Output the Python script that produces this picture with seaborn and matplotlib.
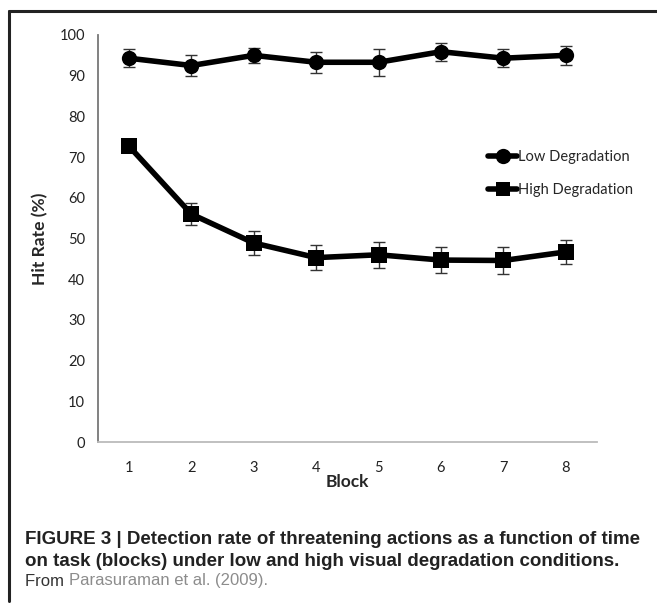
import matplotlib
matplotlib.use("Agg")
import numpy as np
import pandas as pd
import seaborn as sns
import matplotlib.pyplot as plt
from matplotlib.lines import Line2D
from matplotlib.ticker import FixedLocator, NullFormatter

# data
blocks = [1, 2, 3, 4, 5, 6, 7, 8]
low_deg = [94.3, 92.5, 95.0, 93.3, 93.3, 95.9, 94.3, 95.0]
low_err = [2.2, 2.5, 1.9, 2.6, 3.3, 2.2, 2.2, 2.3]
high_deg = [72.7, 56.0, 48.9, 45.3, 46.0, 44.7, 44.6, 46.7]
high_err = [1.0, 2.6, 3.0, 3.1, 3.2, 3.1, 3.2, 2.9]
series_names = ["Low Degradation", "High Degradation"]

df = pd.DataFrame({
    "block": blocks * 2,
    "hit": low_deg + high_deg,
    "cond": [series_names[0]] * 8 + [series_names[1]] * 8,
})

sns.set_style("white")
plt.rcParams["font.family"] = ["Lato", "DejaVu Sans"]

fig = plt.figure(figsize=(6.57, 6.04), dpi=100)
ax = fig.add_axes([97.7 / 657, 1 - 442 / 604, (597 - 97.7) / 657, (442 - 35) / 604])

# error bars first, lines on top
for vals, errs in [(low_deg, low_err), (high_deg, high_err)]:
    ax.errorbar(blocks, vals, yerr=errs, fmt="none", ecolor="#333333",
                elinewidth=1.0, capsize=4, capthick=1.0, zorder=2)

sns.lineplot(data=df, x="block", y="hit", style="cond",
             markers={series_names[0]: "o", series_names[1]: "s"},
             dashes=False, color="black", linewidth=4, markersize=11,
             markeredgewidth=0, legend=False, ax=ax, zorder=3)

ax.set_xlim(0.5, 8.5)
ax.set_ylim(0, 100)
ax.set_yticks(range(0, 101, 10))
ax.set_xticks(blocks)
ax.xaxis.set_minor_locator(FixedLocator(np.arange(0.5, 9, 1)))
ax.xaxis.set_minor_formatter(NullFormatter())
ax.tick_params(axis="x", which="major", length=0, pad=14, labelsize=10.5, colors="#222222")
ax.tick_params(axis="x", which="minor", length=5, width=1, color="#bbbbbb", direction="out")
ax.tick_params(axis="y", length=5, width=1, color="#777777", direction="out",
               labelsize=10.5, labelcolor="#222222", pad=4)

for side in ["top", "right"]:
    ax.spines[side].set_visible(False)
ax.spines["left"].set_color("#777777")
ax.spines["left"].set_linewidth(1.3)
ax.spines["bottom"].set_color("#bbbbbb")
ax.spines["bottom"].set_linewidth(1.3)

ax.set_xlabel("Block", fontsize=12.5, fontweight="bold", labelpad=-1)
ax.set_ylabel("Hit Rate (%)", fontsize=12.5, fontweight="bold", labelpad=8)

handles = [
    Line2D([], [], color="black", lw=4, marker="o", markersize=11, markeredgewidth=0),
    Line2D([], [], color="black", lw=4, marker="s", markersize=10, markeredgewidth=0),
]
fig.legend(handles, series_names, loc="upper left",
           bbox_to_anchor=(475 / 657, 1 - 137 / 604), frameon=False,
           fontsize=10.5, handlelength=2.0, handletextpad=0.05, labelspacing=1.3)

# frame of the figure panel
fig.add_artist(Line2D([9 / 657, 1.0], [1 - 11 / 604, 1 - 11 / 604],
                      color="#222222", lw=2.2, transform=fig.transFigure))
fig.add_artist(Line2D([9 / 657, 9 / 657], [1 - 11 / 604, 1 - 601 / 604],
                      color="#222222", lw=2.2, transform=fig.transFigure))

cap_font = ["Liberation Sans Narrow", "Liberation Sans", "DejaVu Sans"]
fig.text(25 / 657, 1 - 540 / 604,
         "FIGURE 3 | Detection rate of threatening actions as a function of time",
         family=cap_font, fontsize=13.5, fontweight="bold", color="#222222", va="center")
fig.text(25 / 657, 1 - 561 / 604,
         "on task (blocks) under low and high visual degradation conditions.",
         family=cap_font, fontsize=13.5, fontweight="bold", color="#222222", va="center")
t = fig.text(25 / 657, 1 - 581 / 604, "From ", family=cap_font, fontsize=12,
             color="#333333", va="center")
fig.canvas.draw()
bb = t.get_window_extent().transformed(fig.transFigure.inverted())
fig.text(bb.x1, 1 - 581 / 604, "Parasuraman et al. (2009).", family=cap_font,
         fontsize=12, color="#8c8c8c", va="center")

fig.savefig("out.png", dpi=100)
